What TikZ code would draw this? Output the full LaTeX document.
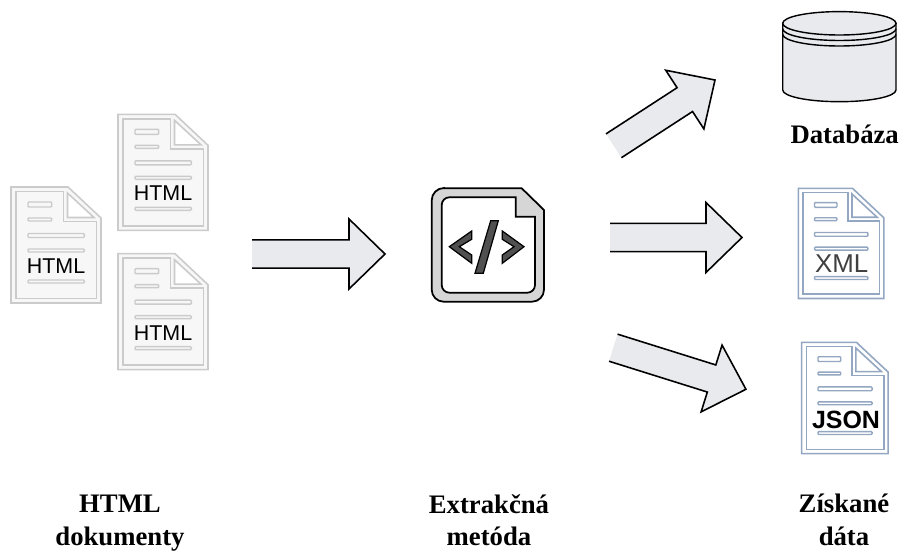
\documentclass[tikz,border=0pt]{standalone}
\usepackage{fontspec}
\setmainfont{Liberation Serif}
\setsansfont{Liberation Sans}
\definecolor{arrowgray}{HTML}{E9EAEE}
\definecolor{docline}{HTML}{CBCBCB}
\definecolor{docfill}{HTML}{F7F7F7}
\definecolor{blueline}{HTML}{93A6C2}
\definecolor{iconfill}{HTML}{D6D6D6}
\definecolor{codegray}{HTML}{505050}
\tikzset{
    caption/.style={font=\fontsize{15.2}{18.4}\selectfont\bfseries, align=center, inner sep=0pt},
    doclabel/.style={font=\sffamily\fontsize{12.2}{14}\selectfont, text=black, inner sep=0pt},
    pics/blockarrow/.style={
    code = {
		\fill[arrowgray] (0,-14.2) -- (#1-36,-14.2) -- (#1-36,-35) -- (#1,0) -- (#1-36,35) -- (#1-36,14.2) -- (0,14.2) -- cycle;
		\draw[line width=.9pt, line join=miter] (0,-14.2) -- (#1-36,-14.2) -- (#1-36,-35) -- (#1,0) -- (#1-36,35) -- (#1-36,14.2) -- (0,14.2);
    }},
    pics/docicon/.style args={#1/#2}{
    code = {
		\draw[#1, fill=#2, line width=.9pt] (0,0) -- (57,0) -- (90,31) -- (90,116) -- (0,116) -- cycle;
		\draw[#1, line width=.9pt] (5,4.5) -- (52.5,4.5) -- (52.5,34.5) -- (85.5,34.5) -- (85.5,111.5) -- (5,111.5) -- cycle;
		\draw[#1, fill=white, line width=.9pt] (56.5,6) -- (56.5,30.5) -- (83,30.5) -- cycle;
		% text lines
		\draw[#1, rounded corners=.5pt, line width=.8pt] (17,15) rectangle (40.7,20);
		\draw[#1, rounded corners=.5pt, line width=.8pt] (17,31) rectangle (40.7,34);
		\draw[#1, rounded corners=.5pt, line width=.8pt] (17,46.5) rectangle (73.3,50.5);
		\draw[#1, rounded corners=.5pt, line width=.8pt] (17,62) rectangle (73.3,65);
		\draw[#1, rounded corners=.5pt, line width=.8pt] (17,93) rectangle (73.3,96);
    }}
}
\begin{document}
\begin{tikzpicture}[x=0.02cm, y=-0.02cm]
		\useasboundingbox (0,0) rectangle (900,551);

		% html documents
		\pic at (118,114.3) {docicon=docline/docfill};
		\node[doclabel] (htmla) at (163,193) {HTML};
		\pic at (11,187) {docicon=docline/docfill};
		\node[doclabel] (htmlb) at (56,266) {HTML};
		\pic at (118,253.7) {docicon=docline/docfill};
		\node[doclabel] (htmlc) at (163,332.7) {HTML};

		% arrows
		\pic at (252,254) {blockarrow=133};
		\pic[rotate=33] at (613.7,145.8) {blockarrow=120.8};
		\pic at (610,237.5) {blockarrow=132};
		\pic[rotate=-17.4] at (613.3,347.7) {blockarrow=139};

		% extraction icon
		\draw[fill=iconfill, line width=1pt] (444,188.3) -- (521.7,188.3) -- (544,210) -- (544,289.7) arc (0:90:12) -- (443.7,301.7) arc (90:180:12) -- (431.7,200.3) arc (180:270:12.3) -- cycle;
		\draw[fill=white, line width=1pt] (449,197.3) -- (515.7,197.3) -- (515.7,216.7) -- (535,216.7) -- (535,285) arc (0:90:7.7) -- (449.4,292.7) arc (90:180:7.7) -- (441.7,205) arc (180:270:7.7) -- cycle;
		\draw[fill=codegray, line width=.7pt] (449.3,246.7) -- (471.7,231) -- (471.7,239.3) -- (459.3,246.7) -- (471.7,255) -- (471.7,263.3) -- cycle;
		\draw[fill=codegray, line width=.7pt] (490.7,220.7) -- (498.3,220.7) -- (483.3,273.3) -- (475,273.3) -- cycle;
		\draw[fill=codegray, line width=.7pt] (524,246.7) -- (502.3,231) -- (502.3,239.3) -- (514,246.7) -- (502.3,255) -- (502.3,263.3) -- cycle;

		% database
		\draw[fill=arrowgray, line width=.8pt] (782.7,23.3) -- (782.7,90) arc (180:0:56.65 and 11.7) -- (896,23.3) -- cycle;
		\draw[line width=.8pt] (782.7,28.8) arc (180:0:56.65 and 11.7);
		\draw[line width=.8pt] (782.7,34.3) arc (180:0:56.65 and 11.7);
		\draw[fill=arrowgray, line width=.8pt] (839.35,23.3) ellipse (56.65 and 11.7);

		% output files
		\pic[scale=.95] at (798.3,188.3) {docicon=blueline/white};
		\node[doclabel, font=\sffamily\fontsize{14.7}{16}\selectfont, text=black!75] (xml) at (841.7,264) {XML};
		\pic[scale=.96] at (801.7,342.3) {docicon=blueline/white};
		\node[doclabel, font=\sffamily\bfseries\fontsize{14.2}{16}\selectfont] (json) at (846,420) {JSON};

		% captions
		\node[caption] (database) at (844.7,134) {Databáza};
		\node[caption] (source) at (120,523) {HTML\\dokumenty};
		\node[caption] (method) at (489,520) {Extrakčná\\metóda};
		\node[caption] (result) at (844,520) {Získané\\dáta};
\end{tikzpicture}
\end{document}
